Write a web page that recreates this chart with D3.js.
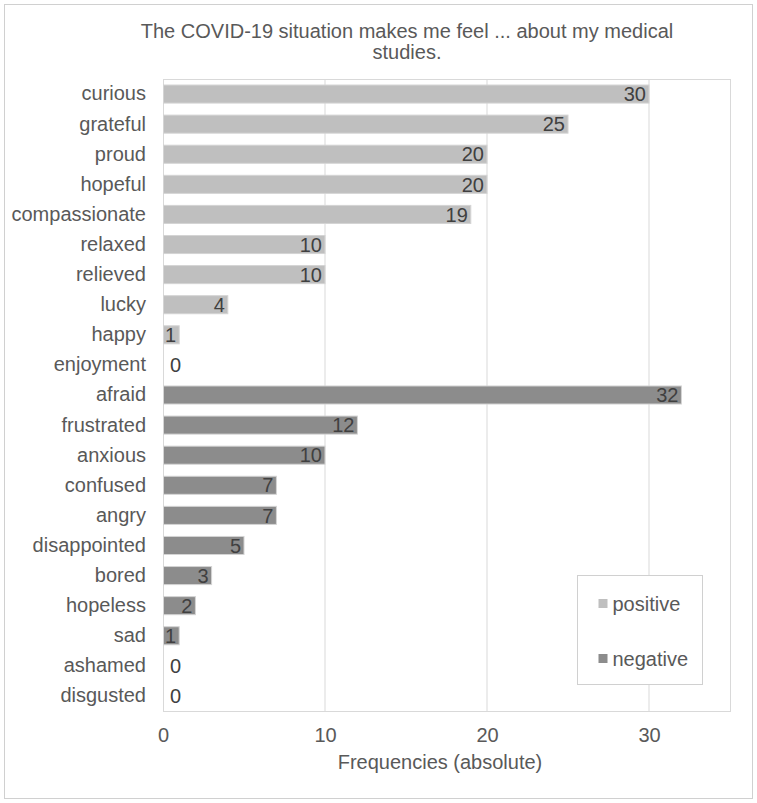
<!DOCTYPE html>
<html lang="en">
<head>
<meta charset="UTF-8">
<title>COVID-19 feelings</title>
<script src="https://d3js.org/d3.v7.min.js"></script>
<style>
  body { margin: 0; background: #fff; font-family: 'Liberation Sans', Arial, sans-serif; }
  text { fill: #595959; }
</style>
</head>
<body>
<div id="chart"></div>
<script>
  const categories = ["curious", "grateful", "proud", "hopeful", "compassionate", "relaxed", "relieved", "lucky", "happy", "enjoyment",
    "afraid", "frustrated", "anxious", "confused", "angry", "disappointed", "bored", "hopeless", "sad", "ashamed", "disgusted"];
  const values = [30, 25, 20, 20, 19, 10, 10, 4, 1, 0, 32, 12, 10, 7, 7, 5, 3, 2, 1, 0, 0];
  const groups = ["positive", "positive", "positive", "positive", "positive", "positive", "positive", "positive", "positive", "positive",
    "negative", "negative", "negative", "negative", "negative", "negative", "negative", "negative", "negative", "negative", "negative"];
  const xTicks = [0, 10, 20, 30];

  const W = 757, H = 803;
  const margin = { top: 79, right: 27, bottom: 92, left: 163 };
  const width = W - margin.left - margin.right;
  const height = H - margin.top - margin.bottom;
  const fontSize = "20px";

  const color = d3.scaleOrdinal().domain(["positive", "negative"]).range(["#bfbfbf", "#8c8c8c"]);

  const svg = d3.select("#chart").append("svg")
    .attr("width", W).attr("height", H)
    .style("font-family", "'Liberation Sans', Arial, sans-serif");

  // outer chart border
  svg.append("rect")
    .attr("x", 4.5).attr("y", 4.5).attr("width", W - 9).attr("height", H - 9)
    .attr("fill", "none").attr("stroke", "#d0d0d0");

  // title
  svg.append("text").attr("x", 407).attr("y", 38).attr("text-anchor", "middle")
    .style("font-size", fontSize).text("The COVID-19 situation makes me feel ... about my medical");
  svg.append("text").attr("x", 407).attr("y", 59).attr("text-anchor", "middle")
    .style("font-size", fontSize).text("studies.");

  const g = svg.append("g").attr("transform", "translate(" + margin.left + "," + margin.top + ")");

  const x = d3.scaleLinear().domain([0, 35]).range([0, width]);
  const y = d3.scaleBand().domain(categories).range([0, height]).paddingInner(0.4).paddingOuter(0.2);

  // gridlines
  g.selectAll(".grid").data(xTicks.slice(1)).enter().append("line")
    .attr("x1", d => x(d)).attr("x2", d => x(d)).attr("y1", 0).attr("y2", height)
    .attr("stroke", "#d9d9d9");

  // plot frame
  g.append("rect").attr("x", 0.5).attr("y", 0.5).attr("width", width).attr("height", height)
    .attr("fill", "none").attr("stroke", "#d9d9d9");

  // bars
  g.selectAll(".bar").data(values).enter().append("rect")
    .attr("x", 0.5)
    .attr("y", (d, i) => y(categories[i]))
    .attr("width", d => Math.max(0, x(d) - 0.5))
    .attr("height", y.bandwidth())
    .attr("fill", (d, i) => color(groups[i]))
    .attr("stroke", d => d > 0 ? "#d4d4d4" : "none")
    .attr("stroke-width", 1);

  // data labels
  g.selectAll(".lbl").data(values).enter().append("text")
    .attr("x", d => d > 0 ? x(d) - 3 : x(0) + 7)
    .attr("y", (d, i) => y(categories[i]) + y.bandwidth() / 2)
    .attr("dy", "0.36em")
    .attr("text-anchor", d => d > 0 ? "end" : "start")
    .style("font-size", fontSize).style("fill", "#404040")
    .text(d => d);

  // category axis
  const yAxis = g.append("g").call(d3.axisLeft(y).tickSize(0).tickPadding(17));
  yAxis.select(".domain").remove();
  yAxis.selectAll("text").style("font-size", fontSize).style("fill", "#595959")
    .attr("font-family", "'Liberation Sans', Arial, sans-serif");

  // value axis
  const xAxis = g.append("g").attr("transform", "translate(0," + height + ")")
    .call(d3.axisBottom(x).tickValues(xTicks).tickSize(0).tickPadding(17));
  xAxis.select(".domain").remove();
  xAxis.selectAll("text").style("font-size", fontSize).style("fill", "#595959")
    .attr("font-family", "'Liberation Sans', Arial, sans-serif");

  svg.append("text").attr("x", 440).attr("y", 769).attr("text-anchor", "middle")
    .style("font-size", fontSize).text("Frequencies (absolute)");

  // legend
  const legend = svg.append("g").attr("transform", "translate(577.5,575.5)");
  legend.append("rect").attr("width", 125).attr("height", 109)
    .attr("fill", "#fff").attr("stroke", "#d0d0d0");
  const items = legend.selectAll(".item").data(color.domain()).enter().append("g")
    .attr("transform", (d, i) => "translate(0," + (28 + i * 55) + ")");
  items.append("rect").attr("x", 21).attr("y", -4.5).attr("width", 9).attr("height", 9)
    .attr("fill", d => color(d));
  items.append("text").attr("x", 35).attr("dy", "0.36em")
    .style("font-size", fontSize).text(d => d);
</script>
</body>
</html>
